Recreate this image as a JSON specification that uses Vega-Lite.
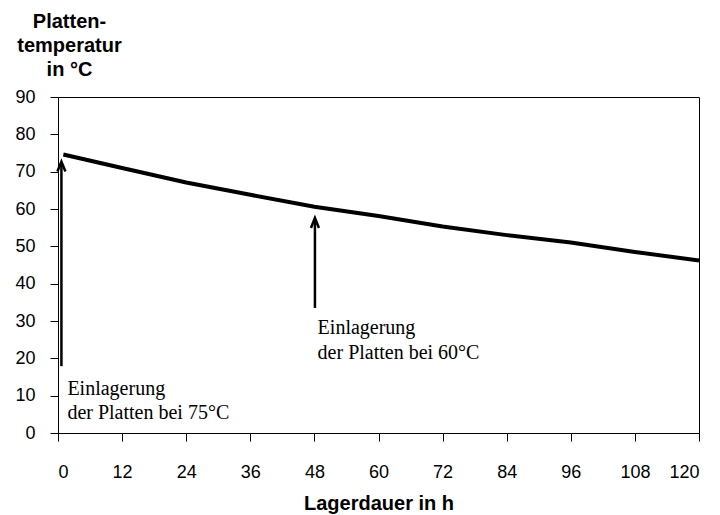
{
  "$schema": "https://vega.github.io/schema/vega-lite/v6.json",
  "autosize": {"type": "none"},
  "width": 641,
  "height": 336,
  "padding": {"left": 58, "top": 97, "right": 21, "bottom": 82},
  "background": "white",
  "config": {
    "view": {"stroke": "#000", "strokeWidth": 1},
    "axis": {
      "grid": false,
      "domainColor": "#000",
      "tickColor": "#000",
      "tickSize": 8,
      "labelFont": "Liberation Sans",
      "labelFontSize": 18,
      "labelColor": "#000",
      "titleFont": "Liberation Sans",
      "titleFontSize": 20,
      "titleFontWeight": "bold",
      "titleColor": "#000"
    }
  },
  "datasets": {
    "curve": [
      {"h": 1, "temp": 74.6},
      {"h": 12, "temp": 71.0},
      {"h": 24, "temp": 67.1},
      {"h": 36, "temp": 63.8},
      {"h": 48, "temp": 60.6},
      {"h": 60, "temp": 58.1},
      {"h": 72, "temp": 55.3},
      {"h": 84, "temp": 53.0},
      {"h": 96, "temp": 51.0},
      {"h": 108, "temp": 48.5},
      {"h": 120, "temp": 46.2}
    ],
    "arrows": [
      {"h": 0.64, "temp": 17.9, "temp2": 72.4},
      {"h": 48.1, "temp": 33.5, "temp2": 57.3}
    ],
    "heads": [
      {"h": 0.64, "temp": 72.7},
      {"h": 48.1, "temp": 57.6}
    ],
    "labels": [
      {"h": 1.76, "temp": 10.1, "label": "Einlagerung"},
      {"h": 1.76, "temp": 3.8, "label": "der Platten bei 75°C"},
      {"h": 48.6, "temp": 26.4, "label": "Einlagerung"},
      {"h": 48.6, "temp": 19.8, "label": "der Platten bei 60°C"}
    ]
  },
  "encoding": {
    "x": {
      "field": "h",
      "type": "quantitative",
      "scale": {"domain": [0, 120], "nice": false, "zero": false},
      "axis": {
        "values": [0, 12, 24, 36, 48, 60, 72, 84, 96, 108, 120],
        "title": "Lagerdauer in h",
        "labelPadding": 22,
        "titleY": 76,
        "titleBaseline": "alphabetic"
      }
    },
    "y": {
      "field": "temp",
      "type": "quantitative",
      "scale": {"domain": [0, 90], "nice": false},
      "axis": {
        "values": [0, 10, 20, 30, 40, 50, 60, 70, 80, 90],
        "title": ["Platten-", "temperatur", "in °C"],
        "labelPadding": 15,
        "titleAngle": 0,
        "titleAlign": "center",
        "titleBaseline": "alphabetic",
        "titleX": 11,
        "titleY": -70,
        "titleLineHeight": 24
      }
    }
  },
  "layer": [
    {
      "data": {"name": "curve"},
      "mark": {"type": "line", "color": "#000", "strokeWidth": 4}
    },
    {
      "data": {"name": "arrows"},
      "mark": {"type": "rule", "color": "#000", "strokeWidth": 2.5},
      "encoding": {"y2": {"field": "temp2"}}
    },
    {
      "data": {"name": "heads"},
      "mark": {
        "type": "point",
        "shape": "M -0.4 1 L 0 0 L 0.4 1",
        "size": 400,
        "filled": false,
        "stroke": "#000",
        "strokeWidth": 2.5,
        "opacity": 1
      }
    },
    {
      "data": {"name": "labels"},
      "mark": {
        "type": "text",
        "align": "left",
        "baseline": "alphabetic",
        "font": "Liberation Serif",
        "fontSize": 20,
        "color": "#000"
      },
      "encoding": {"text": {"field": "label"}}
    }
  ]
}
